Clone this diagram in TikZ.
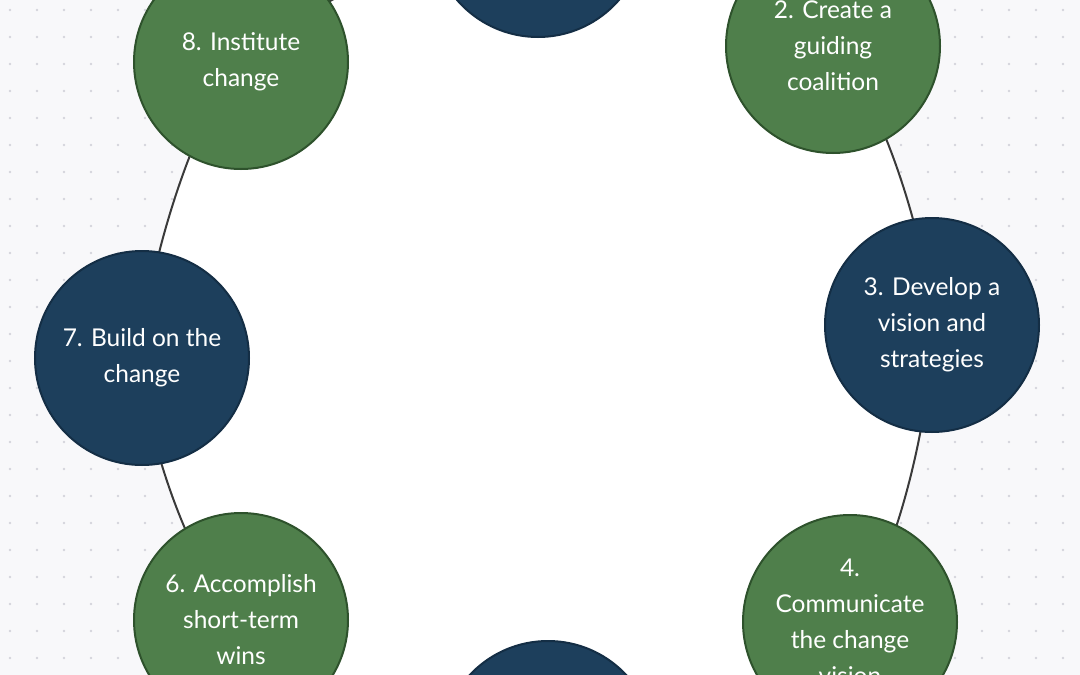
\documentclass[tikz,border=0pt]{standalone}
\usepackage{fontspec}
\setmainfont{Lato}
\definecolor{bg}{HTML}{F8F8FA}
\definecolor{dotc}{HTML}{D4D4DC}
\definecolor{grn}{HTML}{4F7F4B}
\definecolor{grnb}{HTML}{2E522C}
\definecolor{nvy}{HTML}{1D3F5C}
\definecolor{nvyb}{HTML}{142E45}
\definecolor{ln}{HTML}{3A3A3A}
\tikzset{
 stepnode/.style={circle,minimum size=214pt,inner sep=0pt,line width=2pt,text=white,align=center,font=\fontsize{24.5}{36}\selectfont},
 gnode/.style={stepnode,fill=grn,draw=grnb},
 nnode/.style={stepnode,fill=nvy,draw=nvyb},
}
\begin{document}
\begin{tikzpicture}[x=1pt,y=-1pt]
\useasboundingbox (0,0) rectangle (1080,675);
\clip (0,0) rectangle (1080,675);
\fill[bg] (0,0) rectangle (1080,675);
\foreach \i in {0,...,40}{\foreach \j in {0,...,25}{\fill[dotc] (10+27*\i,10+27*\j) circle (1.3);}}
\fill[white] plot[smooth cycle,tension=0.45] coordinates {(538,-70) (833,46) (932,325) (850,620) (548,748) (241,620) (142,358) (241,62)};
\draw[ln,line width=2pt] plot[smooth cycle,tension=0.45] coordinates {(538,-70) (833,46) (932,325) (850,620) (548,748) (241,620) (142,358) (241,62)};
\node[nnode] (n1) at (538,-70) {};
\node[gnode] (n2) at (833,46) {2. Create a\\guiding\\coalition};
\node[nnode] (n3) at (932,325) {3. Develop a\\vision and\\strategies};
\node[gnode] (n4) at (850,622) {4.\\Communicate\\the change\\vision};
\node[nnode] (n5) at (548,748) {};
\node[gnode] (n6) at (241,620) {6. Accomplish\\short-term\\wins};
\node[nnode] (n7) at (142,358) {7. Build on the\\change};
\node[gnode] (n8) at (241,62) {8. Institute\\change};
\end{tikzpicture}
\end{document}
